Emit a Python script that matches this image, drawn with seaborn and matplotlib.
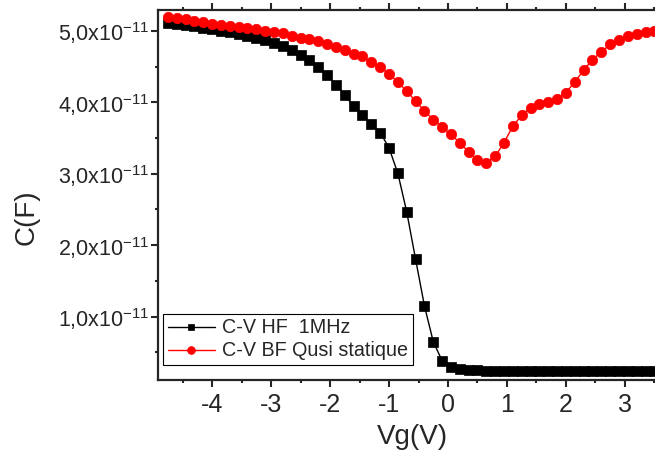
import matplotlib
matplotlib.use('Agg')
import matplotlib.pyplot as plt
from matplotlib.ticker import FixedLocator, MultipleLocator, FuncFormatter
import seaborn as sns

# gate voltage sweep (V)
vg = [-4.75, -4.6, -4.45, -4.3, -4.15, -4.0, -3.85, -3.7, -3.55, -3.4,
      -3.25, -3.1, -2.95, -2.8, -2.65, -2.5, -2.35, -2.2, -2.05, -1.9,
      -1.75, -1.6, -1.45, -1.3, -1.15, -1.0, -0.85, -0.7, -0.55, -0.4,
      -0.25, -0.1, 0.05, 0.2, 0.35, 0.5, 0.65, 0.8, 0.95, 1.1,
      1.25, 1.4, 1.55, 1.7, 1.85, 2.0, 2.15, 2.3, 2.45, 2.6,
      2.75, 2.9, 3.05, 3.2, 3.35, 3.5]

# capacitance, in units of 1e-11 F
c_hf = [5.109, 5.095, 5.081, 5.063, 5.045, 5.021, 5.003, 4.983, 4.961, 4.933,
        4.905, 4.871, 4.829, 4.787, 4.727, 4.667, 4.587, 4.494, 4.378, 4.248,
        4.098, 3.944, 3.818, 3.702, 3.576, 3.361, 3.003, 2.466, 1.804, 1.151,
        0.648, 0.382, 0.290, 0.262, 0.252, 0.245, 0.243, 0.242, 0.242, 0.242,
        0.242, 0.242, 0.242, 0.242, 0.242, 0.242, 0.242, 0.242, 0.242, 0.242,
        0.242, 0.242, 0.242, 0.242, 0.242, 0.242]
c_bf = [5.193, 5.179, 5.161, 5.137, 5.119, 5.101, 5.087, 5.073, 5.059, 5.039,
        5.021, 5.003, 4.983, 4.965, 4.933, 4.905, 4.885, 4.853, 4.811, 4.773,
        4.731, 4.681, 4.643, 4.559, 4.494, 4.392, 4.284, 4.154, 4.018, 3.878,
        3.758, 3.655, 3.552, 3.431, 3.305, 3.185, 3.151, 3.241, 3.436, 3.664,
        3.818, 3.926, 3.982, 4.010, 4.046, 4.136, 4.284, 4.448, 4.597, 4.703,
        4.811, 4.877, 4.933, 4.961, 4.983, 5.000]

labels = ["C-V HF  1MHz", "C-V BF Qusi statique"]
yticks = [1, 2, 3, 4, 5]  # x 1e-11 F

sns.set_style("ticks")
plt.rcParams['font.family'] = ['Liberation Sans', 'DejaVu Sans']
plt.rcParams['mathtext.fontset'] = 'custom'
plt.rcParams['mathtext.rm'] = 'Liberation Sans'
plt.rcParams['mathtext.default'] = 'regular'

fig = plt.figure(figsize=(6.55, 4.58), dpi=100)
ax = fig.add_axes([0.241, 0.170, 0.759, 0.808])

sns.lineplot(x=vg, y=[v * 1e-11 for v in c_hf], ax=ax, color='black', marker='s',
             markersize=6.5, markeredgecolor='black', markeredgewidth=0.5,
             linewidth=1, label=labels[0])
sns.lineplot(x=vg, y=[v * 1e-11 for v in c_bf], ax=ax, color='red', marker='o',
             markersize=7.5, markeredgecolor='red', markeredgewidth=0.5,
             linewidth=1, label=labels[1])

ax.set_xlim(-4.92, 3.51)
ax.set_ylim(0.11e-11, 5.29e-11)

ax.xaxis.set_major_locator(MultipleLocator(1))
ax.xaxis.set_minor_locator(MultipleLocator(0.5))
ax.yaxis.set_major_locator(FixedLocator([t * 1e-11 for t in yticks]))
ax.yaxis.set_minor_locator(FixedLocator([(t + 0.5) * 1e-11 for t in [0] + yticks[:-1]]))


def fmt(v, pos):
    return f"{v / 1e-11:.1f}".replace('.', ',') + r"x10$^{-11}$"


ax.yaxis.set_major_formatter(FuncFormatter(fmt))
ax.xaxis.set_major_formatter(FuncFormatter(lambda v, p: f"{v:g}".replace('\u2212', '-')))

ax.tick_params(axis='both', which='major', direction='out', length=5, width=1.5)
ax.tick_params(axis='both', which='minor', direction='out', length=2.5, width=1.5)
ax.tick_params(axis='y', which='major', labelsize=15.5, pad=1)
ax.tick_params(axis='x', which='major', labelsize=18, pad=4)
ax.tick_params(axis='x', which='both', top=True)
for spine in ax.spines.values():
    spine.set_linewidth(1.6)
ax.spines['right'].set_visible(False)

ax.set_xlabel("Vg(V)", fontsize=20)
ax.set_ylabel("C(F)", fontsize=20)
ax.xaxis.set_label_coords(0.513, -0.118)
ax.yaxis.set_label_coords(-0.238, 0.44)

leg = ax.legend(loc='lower left', bbox_to_anchor=(0.01, 0.04), fontsize=14.2,
                frameon=True, fancybox=False, edgecolor='black', framealpha=1,
                borderpad=0.25, handlelength=2.4, handletextpad=0.35,
                labelspacing=0.2, borderaxespad=0, markerscale=0.75)
leg.get_frame().set_linewidth(0.8)

fig.savefig("out.png", dpi=100)
